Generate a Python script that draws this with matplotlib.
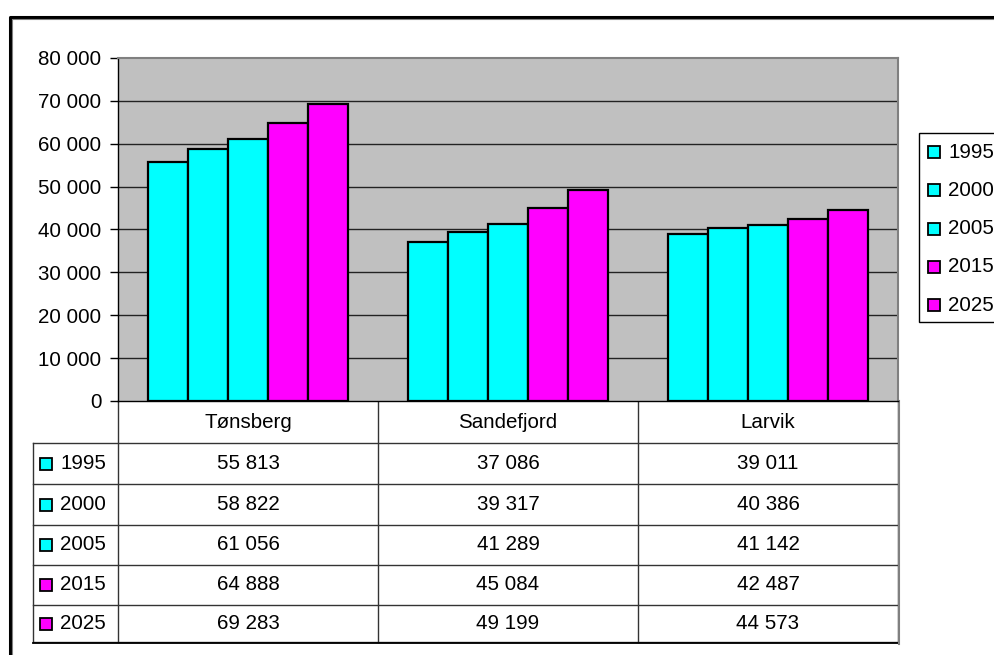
import matplotlib
matplotlib.use("Agg")
import matplotlib.pyplot as plt
from matplotlib.lines import Line2D
from matplotlib.patches import Rectangle
import numpy as np

# Population by municipality
cities = ["Tønsberg", "Sandefjord", "Larvik"]
years = ["1995", "2000", "2005", "2015", "2025"]
pop_1995 = [55813, 37086, 39011]
pop_2000 = [58822, 39317, 40386]
pop_2005 = [61056, 41289, 41142]
pop_2015 = [64888, 45084, 42487]
pop_2025 = [69283, 49199, 44573]
series = [pop_1995, pop_2000, pop_2005, pop_2015, pop_2025]
colors = ["#00FFFF", "#00FFFF", "#00FFFF", "#FF00FF", "#FF00FF"]
y_ticks = [0, 10000, 20000, 30000, 40000, 50000, 60000, 70000, 80000]

FONT = "Liberation Sans"
FS = 14.8
W, H = 995, 655


def fmt(v):
    return f"{v:,}".replace(",", " ")


fig = plt.figure(figsize=(W / 100, H / 100), dpi=100)
fig.patch.set_facecolor("white")

# full-figure overlay in pixel units for frame and data table
ov = fig.add_axes([0, 0, 1, 1], zorder=0)
ov.set_xlim(0, W)
ov.set_ylim(H, 0)
ov.axis("off")

# outer chart frame
ov.add_line(Line2D([10, 10, 1000], [700, 17, 17], color="black", lw=2.2))
ov.add_line(Line2D([11.5, 11.5, 1000], [700, 18.5, 18.5], color="#808080", lw=0.8))

# plot area
px_l, px_r, px_t, px_b = 118, 898, 58, 401
ax = fig.add_axes([px_l / W, (H - px_b) / H, (px_r - px_l) / W, (px_b - px_t) / H], zorder=2)
ax.set_facecolor("#C0C0C0")
n = len(years)
bw = 40 / 260
x = np.arange(len(cities))
for i, (vals, c) in enumerate(zip(series, colors)):
    ax.bar(x + (i - (n - 1) / 2) * bw, vals, width=bw, color=c,
           edgecolor="black", linewidth=1.6, zorder=3)
ax.set_xlim(-0.5, len(cities) - 0.5)
ax.set_ylim(0, 80000)
ax.set_yticks(y_ticks)
ax.set_yticklabels([fmt(v) for v in y_ticks], fontsize=FS, family=FONT)
ax.tick_params(axis="y", length=6, width=1, pad=6, color="black")
ax.set_xticks([])
for v in y_ticks[1:-1]:
    ax.axhline(v, color="#222222", lw=1, zorder=1)
for s in ["top", "right"]:
    ax.spines[s].set_color("#808080")
    ax.spines[s].set_linewidth(1.5)
ax.spines["left"].set_color("black")
ax.spines["bottom"].set_color("black")
ax.spines["left"].set_linewidth(1)
ax.spines["bottom"].set_linewidth(1)

# data table below the plot
col_edges = [118, 378, 638, 898]
row_edges = [401, 443, 484, 525, 565, 605, 642]
lc = "#333333"
for xe in col_edges:
    ov.add_line(Line2D([xe, xe], [row_edges[0], row_edges[-1]], color=lc, lw=1))
ov.add_line(Line2D([33, 33], [row_edges[1], row_edges[-1]], color=lc, lw=1))
for ye in row_edges[1:]:
    ov.add_line(Line2D([33, 898], [ye, ye], color=lc, lw=1))
ov.add_line(Line2D([33, 898], [643, 643], color="black", lw=1.3))
ov.add_line(Line2D([899, 899], [401, 644], color="#808080", lw=1.5))

for j, city in enumerate(cities):
    cx = (col_edges[j] + col_edges[j + 1]) / 2
    ov.text(cx, (row_edges[0] + row_edges[1]) / 2, city, ha="center", va="center",
            fontsize=FS, family=FONT)
for i, (yr, vals, c) in enumerate(zip(years, series, colors)):
    cy = (row_edges[i + 1] + row_edges[i + 2]) / 2
    ov.add_patch(Rectangle((40, cy - 6), 12, 12, facecolor=c, edgecolor="black", lw=1.3))
    ov.text(60, cy, yr, ha="left", va="center", fontsize=FS, family=FONT)
    for j, v in enumerate(vals):
        cx = (col_edges[j] + col_edges[j + 1]) / 2
        ov.text(cx, cy, fmt(v), ha="center", va="center", fontsize=FS, family=FONT)

# legend box on the right
ov.add_patch(Rectangle((919, 133), 120, 189, facecolor="white", edgecolor="black", lw=1))
for i, (yr, c) in enumerate(zip(years, colors)):
    cy = 152 + i * 38.3
    ov.add_patch(Rectangle((928, cy - 6), 12, 12, facecolor=c, edgecolor="black", lw=1.3))
    ov.text(948, cy, yr, ha="left", va="center", fontsize=FS, family=FONT)

fig.savefig("out.png", dpi=100, facecolor="white")
